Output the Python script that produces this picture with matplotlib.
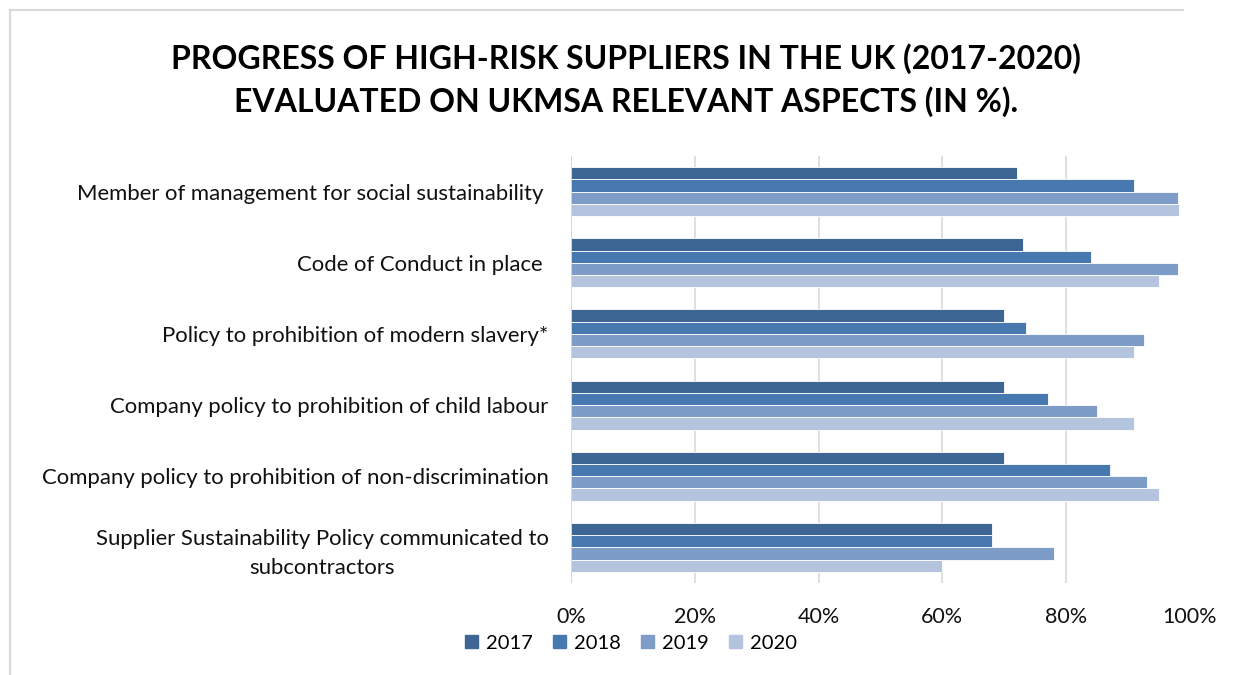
import numpy as np
import matplotlib.pyplot as plt
from matplotlib.lines import Line2D
from matplotlib.ticker import PercentFormatter

plt.rcParams['font.family'] = ['Lato', 'DejaVu Sans']

categories = [
    "Member of management for social sustainability ",
    "Code of Conduct in place ",
    "Policy to prohibition of modern slavery*",
    "Company policy to prohibition of child labour",
    "Company policy to prohibition of non-discrimination",
    "Supplier Sustainability Policy communicated to\nsubcontractors",
]
years = ["2017", "2018", "2019", "2020"]
v2017 = [0.72, 0.73, 0.70, 0.70, 0.70, 0.68]
v2018 = [0.91, 0.84, 0.735, 0.77, 0.87, 0.68]
v2019 = [0.98, 0.98, 0.925, 0.85, 0.93, 0.78]
v2020 = [0.982, 0.95, 0.91, 0.91, 0.95, 0.60]
colors = ["#3e6694", "#4878b0", "#7e9cc8", "#b5c4de"]

fig = plt.figure(figsize=(12.35, 6.75), dpi=100)
ax = fig.add_axes([0.4623, 0.1363, 0.5013, 0.6326])

n = len(categories)
y = np.arange(n)
h = 0.172
series = [v2017, v2018, v2019, v2020]
for i, (vals, c, yr) in enumerate(zip(series, colors, years)):
    ax.barh(y + (i - 1.5) * h, vals, height=h, color=c, edgecolor="white",
            linewidth=0.6, label=yr, zorder=3)

ax.set_ylim(n - 0.5, -0.5)
ax.set_xlim(0, 1.0)
ax.set_yticks(y)
ax.set_yticklabels(categories, fontsize=15.9, color="#111111", ha="right",
                   multialignment="center", linespacing=1.55)
ax.tick_params(axis="y", length=0, pad=16)
ax.set_xticks(np.linspace(0, 1, 6))
ax.xaxis.set_major_formatter(PercentFormatter(1.0, decimals=0))
ax.tick_params(axis="x", length=0, labelsize=15.5, pad=17, labelcolor="#111111")
for t in [0.2, 0.4, 0.6, 0.8]:
    ax.axvline(t, color="#d9d9d9", lw=1.2, zorder=1)
ax.axvline(0, color="#d0d0d0", lw=1.2, zorder=4)
for s in ax.spines.values():
    s.set_visible(False)

fig.text(0.507, 0.913, "PROGRESS OF HIGH-RISK SUPPLIERS IN THE UK (2017-2020)",
         ha="center", va="center", fontsize=23, fontweight="bold")
fig.text(0.507, 0.850, "EVALUATED ON UKMSA RELEVANT ASPECTS (IN %).",
         ha="center", va="center", fontsize=23, fontweight="bold")

handles = [plt.Rectangle((0, 0), 1, 1, color=c) for c in colors]
fig.legend(handles, years, loc="center", bbox_to_anchor=(0.511, 0.047), ncol=4,
           frameon=False, fontsize=14.5, handlelength=0.65, handleheight=0.65,
           handletextpad=0.4, columnspacing=1.0)

fig.add_artist(Line2D([10 / 1235, 1183 / 1235], [1 - 10 / 675, 1 - 10 / 675],
                      color="#d9d9d9", lw=1.5, transform=fig.transFigure))
fig.add_artist(Line2D([10 / 1235, 10 / 1235], [0, 1 - 10 / 675],
                      color="#d9d9d9", lw=1.5, transform=fig.transFigure))

fig.savefig("out.png", dpi=100)
